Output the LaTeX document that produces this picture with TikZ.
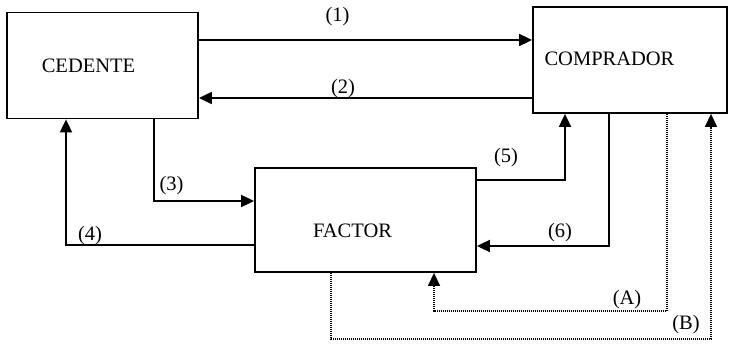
\documentclass[tikz,border=0pt]{standalone}
\usepackage{fontspec}
\setmainfont{Liberation Serif}
\usetikzlibrary{arrows.meta}

\begin{document}
\begin{tikzpicture}[
  x=1pt, y=-1pt,
  font=\fontsize{20.5}{23}\selectfont,
  box/.style={draw, line width=1.8pt, inner sep=0pt},
  arr/.style={-{Triangle[length=13pt,width=12pt]}, line width=1.8pt},
  darr/.style={-{Triangle[length=13pt,width=12pt]}, line width=1.4pt, dash pattern=on 1pt off 1pt},
  lbl/.style={inner sep=0pt}
]
\useasboundingbox (0,0) rectangle (732,347);

% the three parties
\node[box, minimum width=191pt, minimum height=106pt,
  label={[xshift=-14pt]center:CEDENTE}] (ced) at (102.5,65.5) {};
\node[box, minimum width=194pt, minimum height=106pt,
  label={[xshift=-20.5pt, yshift=1pt]center:COMPRADOR}] (comp) at (630,60) {};
\node[box, minimum width=221pt, minimum height=104pt,
  label={[xshift=-13pt, yshift=-11pt]center:FACTOR}] (fac) at (365.5,220) {};

% bends of the connectors
\coordinate (k1) at (0,40);
\coordinate (k2) at (0,98);
\coordinate (k3) at (154,201);
\coordinate (k4) at (66,245);
\coordinate (k5) at (565,180);
\coordinate (k6) at (609,246);
\coordinate (ka) at (667,311);
\coordinate (kb) at (434,311);
\coordinate (kc) at (331,339);
\coordinate (kd) at (711,339);

% solid flows
\draw[arr] (ced.east |- k1) -- (comp.west |- k1);
\draw[arr] (comp.west |- k2) -- (ced.east |- k2);
\draw[arr] (k3 |- ced.south) |- (fac.west |- k3);
\draw[arr] (fac.west |- k4) -| (k4 |- ced.south);
\draw[arr] (fac.east |- k5) -| (k5 |- comp.south);
\draw[arr] (k6 |- comp.south) |- (fac.east |- k6);

% dotted flows
\draw[darr] (ka |- comp.south) -- (ka) -- (kb) -- (kb |- fac.south);
\draw[darr] (kc |- fac.south) -- (kc) -- (kd) -- (kd |- comp.south);

% labels
\node[lbl] (l1) at (337.5,16.5) {(1)};
\node[lbl] (l2) at (343,88.5) {(2)};
\node[lbl] (l3) at (171.5,186) {(3)};
\node[lbl] (l4) at (90,236) {(4)};
\node[lbl] (l5) at (506,157.5) {(5)};
\node[lbl] (l6) at (560,232.5) {(6)};
\node[lbl] (la) at (627,300) {(A)};
\node[lbl] (lb) at (686,325) {(B)};

\end{tikzpicture}
\end{document}
